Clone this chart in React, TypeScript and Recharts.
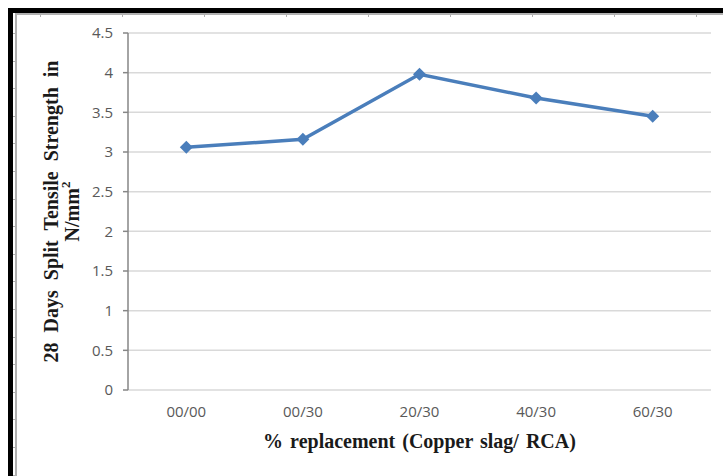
import { LineChart, Line, XAxis, YAxis, CartesianGrid, Label } from 'recharts';

// Split tensile strength at 28 days vs replacement ratio
const categories = ['00/00', '00/30', '20/30', '40/30', '60/30'];
const strength = [3.06, 3.16, 3.98, 3.68, 3.45];
const yTicks = [0, 0.5, 1, 1.5, 2, 2.5, 3, 3.5, 4, 4.5];

const data = categories.map((name, i) => ({ name, pos: i + 0.5, strength: strength[i] }));
const centerTicks = data.map((d) => d.pos);
const boundaryTicks = categories.map((_, i) => i).concat(categories.length);

const BLUE = '#4a7ebb';
const AXIS = '#868686';
const tickFont = { fill: '#595959', fontSize: 15, fontFamily: '"Open Sans", sans-serif' };
const titleFont = { fill: '#1a1a1a', fontSize: 20, fontWeight: 700, fontFamily: '"Liberation Serif", serif' };

function Diamond(props: any) {
  const { cx, cy } = props;
  if (cx == null || cy == null) return null;
  const r = 6.5;
  return <path d={`M${cx},${cy - r}L${cx + r},${cy}L${cx},${cy + r}L${cx - r},${cy}Z`} fill={BLUE} />;
}

function YTitle(props: any) {
  const { viewBox } = props;
  const cy = viewBox.y + viewBox.height / 2;
  return (
    <g>
      <text
        transform={`translate(51, ${cy}) rotate(-90)`}
        textAnchor="middle"
        dominantBaseline="central"
        wordSpacing={5}
        {...titleFont}
      >
        28 Days Split Tensile Strength in
      </text>
      <text transform={`translate(72, ${cy}) rotate(-90)`} textAnchor="middle" dominantBaseline="central" {...titleFont}>
        N/mm<tspan fontSize={13} dy={-7}>2</tspan>
      </text>
    </g>
  );
}

function XTitle(props: any) {
  const { viewBox } = props;
  return (
    <text x={viewBox.x + viewBox.width / 2} y={viewBox.y + 58} textAnchor="middle" wordSpacing={2} {...titleFont}>
      % replacement (Copper slag/ RCA)
    </text>
  );
}

// ruler-like marks on the page frame
const leftMarks = Array.from({ length: 17 }, (_, i) => 33 + i * 27.6);
const topMarks = Array.from({ length: 9 }, (_, i) => 40 + i * 82);

export default function App() {
  return (
    <div style={{ position: 'absolute', left: 0, top: 0, width: 723, height: 476, background: '#fff', overflow: 'hidden' }}>
      <div style={{ position: 'absolute', left: 8, top: 8, width: 715, height: 5, background: '#000' }} />
      <div style={{ position: 'absolute', left: 8, top: 8, width: 5, height: 468, background: '#000' }} />
      <div style={{ position: 'absolute', left: 15, top: 13, width: 708, height: 2, background: '#b0b0b0' }} />
      <div style={{ position: 'absolute', left: 15, top: 13, width: 2, height: 463, background: '#b0b0b0' }} />
      {leftMarks.map((y) => (
        <div key={'l' + y} style={{ position: 'absolute', left: 13, top: y, width: 4, height: 1, background: '#b0b0b0' }} />
      ))}
      {topMarks.map((x) => (
        <div key={'t' + x} style={{ position: 'absolute', left: x, top: 13, width: 1, height: 4, background: '#b0b0b0' }} />
      ))}
      <div style={{ position: 'absolute', left: 0, top: 0 }}>
        <LineChart width={723} height={476} data={data} margin={{ top: 33, right: 12, bottom: 0, left: 0 }}>
          <CartesianGrid vertical={false} stroke="#d9d9d9" strokeWidth={1.5} />
          <XAxis
            xAxisId="edges"
            type="number"
            dataKey="pos"
            domain={[0, categories.length]}
            ticks={boundaryTicks}
            tick={false}
            height={0}
            tickSize={6}
            axisLine={{ stroke: AXIS, strokeWidth: 1.5 }}
            tickLine={{ stroke: AXIS, strokeWidth: 1.5 }}
          />
          <XAxis
            xAxisId="cats"
            type="number"
            dataKey="pos"
            domain={[0, categories.length]}
            ticks={centerTicks}
            tickFormatter={(v: number) => categories[Math.floor(v)]}
            tick={tickFont}
            height={86}
            tickSize={6}
            tickMargin={10}
            axisLine={false}
            tickLine={false}
          >
            <Label content={XTitle} />
          </XAxis>
          <YAxis
            domain={[0, 4.5]}
            ticks={yTicks}
            width={128}
            tick={tickFont}
            tickSize={5}
            tickMargin={10}
            axisLine={{ stroke: AXIS, strokeWidth: 1.5 }}
            tickLine={{ stroke: AXIS, strokeWidth: 1.5 }}
          >
            <Label content={YTitle} />
          </YAxis>
          <Line
            xAxisId="cats"
            dataKey="strength"
            stroke={BLUE}
            strokeWidth={3.5}
            dot={<Diamond />}
            activeDot={false}
            isAnimationActive={false}
          />
        </LineChart>
      </div>
    </div>
  );
}
